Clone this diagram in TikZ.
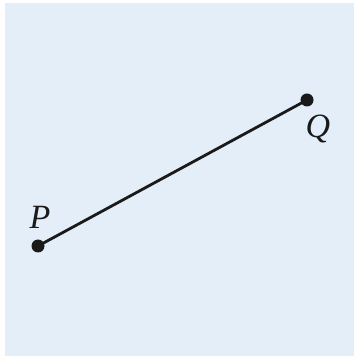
\documentclass[tikz,border=0pt]{standalone}
\usepackage{fontspec}
\setmainfont{Liberation Serif}
\definecolor{bgblue}{HTML}{E4EEF8}
\definecolor{ink}{HTML}{1A1A1A}
\begin{document}
\begin{tikzpicture}[x=1pt,y=1pt,
  pt/.style={circle,fill=ink,inner sep=0pt,minimum size=13pt},
  lbl/.style={font=\fontsize{34}{34}\selectfont\itshape,inner sep=0pt,text=ink}]
\useasboundingbox (0,0) rectangle (354,356);
\fill[bgblue] (5,0) rectangle (354,353);
\node[pt] (P) at (38,110) {};
\node[pt] (Q) at (307,256) {};
\draw[ink,line width=2.8pt] (P.center) -- (Q.center);
\node[lbl] (Plabel) at (40,139) {P};
\node[lbl] (Qlabel) at (318,227) {Q};
\end{tikzpicture}
\end{document}
